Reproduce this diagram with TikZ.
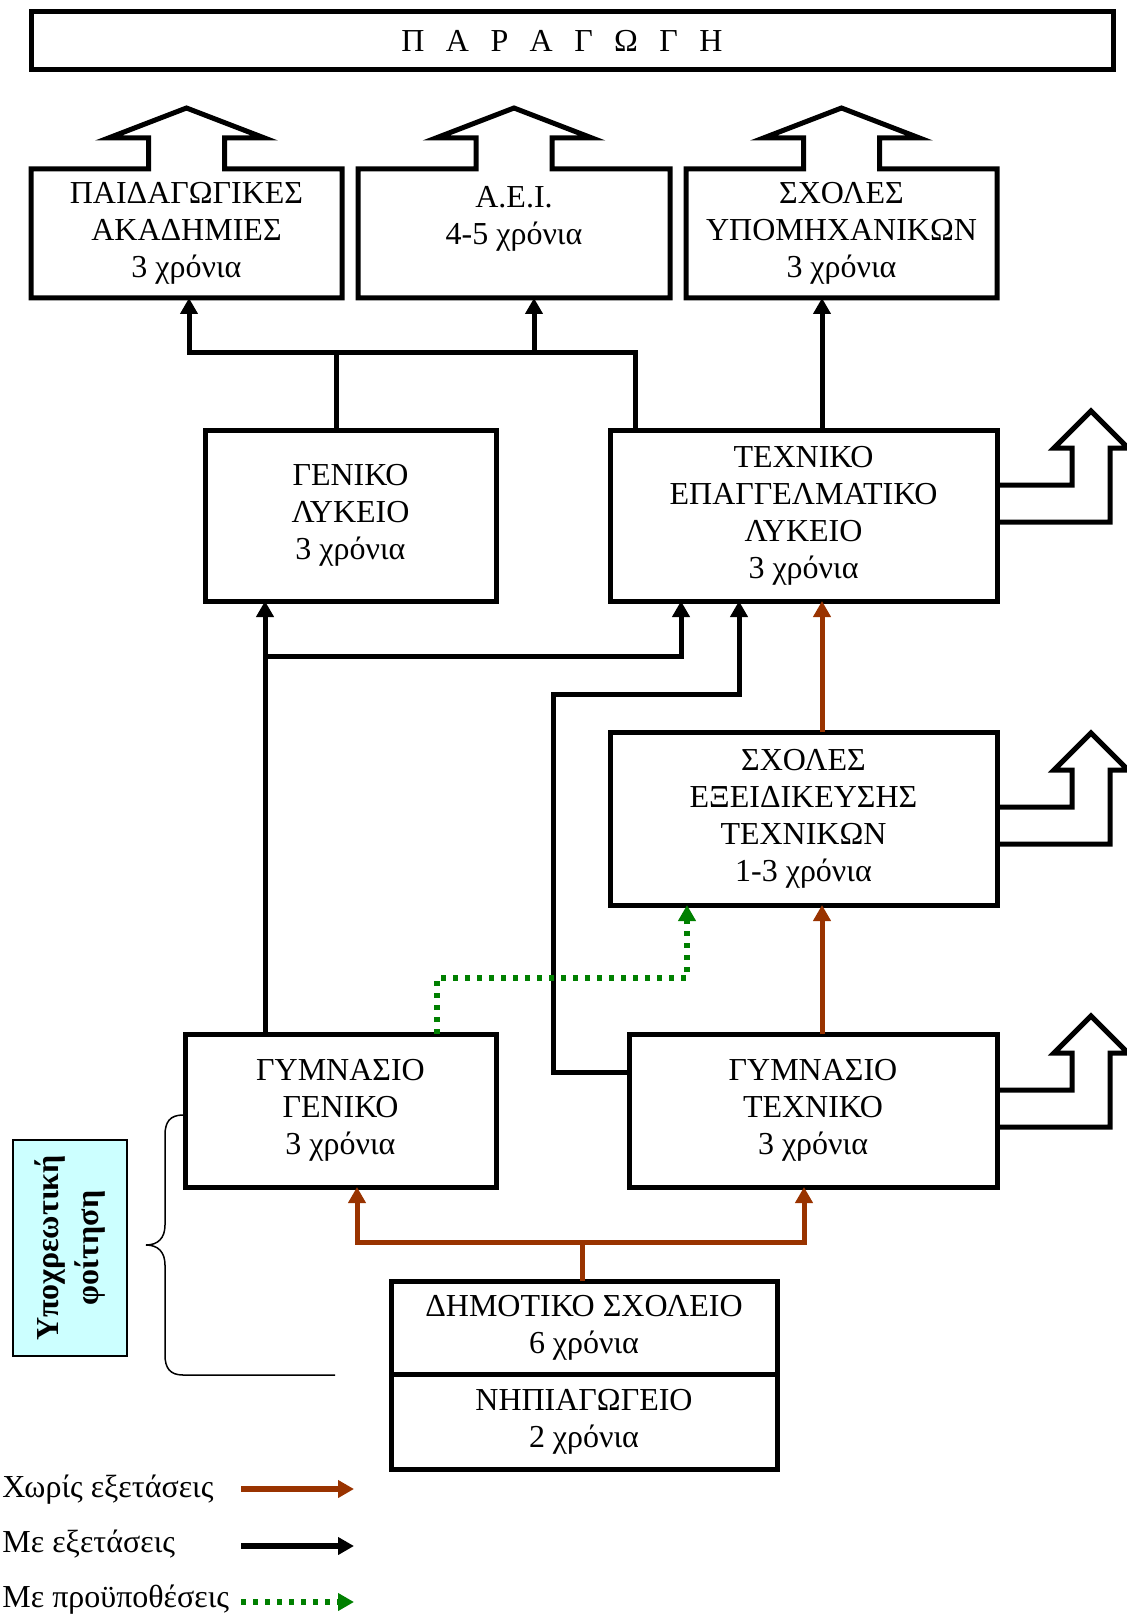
\documentclass[tikz,border=0pt]{standalone}
\usepackage{fontspec}
\setmainfont{Liberation Serif}
\usetikzlibrary{arrows.meta,calc}
\definecolor{noexamBrown}{HTML}{993300}
\definecolor{condGreen}{HTML}{008000}
\definecolor{obligCyan}{HTML}{CCFFFF}

\begin{document}
\begin{tikzpicture}[x=.5pt, y=-.5pt, font=\fontsize{16}{18.5}\selectfont,
  >={Triangle[length=8pt,width=8.5pt]},
  schoolbox/.style={draw, line width=2.5pt, inner sep=0pt, outer sep=0pt, align=center},
  openbox/.style={inner sep=0pt, outer sep=0pt, align=center},
  arrowline/.style={line width=2.5pt, line join=miter},
  exam/.style={line width=2.5pt},
  noexam/.style={line width=2.5pt, draw=noexamBrown},
  cond/.style={line width=2.6pt, draw=condGreen, dash pattern=on 2.6pt off 3.4pt},
  keyline/.style={line width=3pt}]
\useasboundingbox (0,0) rectangle (1127,1615);
\newcommand{\letterGap}{\hspace{.67em}}%
\newcommand{\upArrowBox}[1]{\draw[arrowline] (#1.north west) -- ($(#1.north)+(-38,0)$) -- ++(0,-31) -- ++(-40,0) -- ++(78,-30) -- ++(78,30) -- ++(-40,0) -- ++(0,31) -- (#1.north east) |- (#1.south west) -- cycle;
}
\newcommand{\sideArrow}[2]{\draw[arrowline] ($(#1.north east)+(0,#2)$) -- ++(75,0) -- ++(0,-37) -- ++(-18,0) -- ++(37,-37) -- ++(37,37) -- ++(-18,0) -- ++(0,74) -- ($(#1.north east)+(0,#2+37)$);
}
\node (prod) [schoolbox, minimum width=541pt, minimum height=29pt] at (572,41) {Π\letterGap Α\letterGap Ρ\letterGap Α\letterGap Γ\letterGap Ω\letterGap Γ\letterGap Η\hspace{10pt}};
\node (pa) [openbox, minimum width=155.5pt, minimum height=64.5pt] at (186.5,233.5) {ΠΑΙΔΑΓΩΓΙΚΕΣ\\ΑΚΑΔΗΜΙΕΣ\\3 χρόνια};
\node (aei) [openbox, minimum width=156pt, minimum height=64.5pt] at (514,233.5) {Α.Ε.Ι.\\4-5 χρόνια\\\mbox{}};
\node (ys) [openbox, minimum width=155.5pt, minimum height=64.5pt] at (841.5,233.5) {ΣΧΟΛΕΣ\\ΥΠΟΜΗΧΑΝΙΚΩΝ\\3 χρόνια};
\node (gl) [schoolbox, minimum width=145.5pt, minimum height=85.5pt] at (350.5,515.5) {ΓΕΝΙΚΟ\\ΛΥΚΕΙΟ\\3 χρόνια};
\node (tel) [schoolbox, minimum width=193.5pt, minimum height=85.5pt] at (803.5,515.5) {ΤΕΧΝΙΚΟ\\ΕΠΑΓΓΕΛΜΑΤΙΚΟ\\ΛΥΚΕΙΟ\\3 χρόνια};
\node (set) [schoolbox, minimum width=193.5pt, minimum height=86.5pt] at (803.5,818.5) {ΣΧΟΛΕΣ\\ΕΞΕΙΔΙΚΕΥΣΗΣ\\ΤΕΧΝΙΚΩΝ\\1-3 χρόνια};
\node (gg) [schoolbox, minimum width=155.5pt, minimum height=76.5pt] at (340.5,1110.5) {ΓΥΜΝΑΣΙΟ\\ΓΕΝΙΚΟ\\3 χρόνια};
\node (gt) [schoolbox, minimum width=184pt, minimum height=76.5pt] at (813,1110.5) {ΓΥΜΝΑΣΙΟ\\ΤΕΧΝΙΚΟ\\3 χρόνια};
\node (ds) [schoolbox, minimum width=193pt, minimum height=46.5pt] at (584,1327.5) {ΔΗΜΟΤΙΚΟ ΣΧΟΛΕΙΟ\\6 χρόνια};
\node (nh) [schoolbox, minimum width=193pt, minimum height=47.5pt] at (584,1421.5) {ΝΗΠΙΑΓΩΓΕΙΟ\\2 χρόνια};
\node (oblig) [draw, line width=1pt, fill=obligCyan, rotate=90, minimum width=108pt, minimum height=57pt, inner sep=0pt, align=center, font=\fontsize{16}{20}\selectfont\bfseries] at (70,1248) {Υποχρεωτική\\φοίτηση};
\foreach \b in {pa,aei,ys} {\upArrowBox{\b}}
\foreach \b/\off in {tel/55,set/75,gt/56} {\sideArrow{\b}{\off}}
\coordinate (busW) at (189,353);
\coordinate (busA) at (534,353);
\coordinate (busE) at (635,353);
\coordinate (glUp) at (336,353);
\coordinate (techCol) at (822,601);
\coordinate (ggUp) at (265,656);
\coordinate (telA) at (681,601);
\coordinate (gtBend) at (553,694);
\coordinate (telB) at (739,601);
\coordinate (dsUp) at (582,1242);
\coordinate (brW) at (357,1242);
\coordinate (brE) at (804,1242);
\coordinate (dotBend) at (437,978);
\coordinate (setIn) at (687,905);
\draw[exam,<->] (busW |- pa.south) -- (busW) -- (busA) -- (busA |- aei.south);
\draw[exam] (busA) -- (busE) -- (busE |- tel.north);
\draw[exam] (glUp) -- (glUp |- gl.north);
\draw[exam,->] (techCol |- tel.north) -- (techCol |- ys.south);
\draw[exam,->] (ggUp |- gg.north) -- (ggUp |- gl.south);
\draw[exam,->] (ggUp) -| (telA);
\draw[exam,->] ($(gt.north west)+(0,38)$) -| (gtBend) -| (telB);
\draw[noexam] (dsUp |- ds.north) -- (dsUp);
\draw[noexam,<->] (brW |- gg.south) -- (brW) -- (brE) -- (brE |- gt.south);
\draw[noexam,->] (techCol |- gt.north) -- (techCol |- set.south);
\draw[noexam,->] (techCol |- set.north) -- (techCol |- tel.south);
\draw[cond,->] (dotBend |- gg.north) -- (dotBend) -| (setIn);
\draw[line width=.75pt] (183,1115) .. controls (170,1115) and (165,1122) .. (165,1135) -- (165,1225) .. controls (165,1238) and (158,1245) .. (146,1245) .. controls (158,1245) and (165,1252) .. (165,1265) -- (165,1355) .. controls (165,1368) and (170,1375) .. (183,1375) -- (335,1375);
\node (keyNo) [anchor=base west, inner sep=0pt] at (2,1497) {Χωρίς εξετάσεις};
\node (keyEx) [anchor=base west, inner sep=0pt] at (2,1552) {Με εξετάσεις};
\node (keyCond) [anchor=base west, inner sep=0pt] at (2,1607) {Με προϋποθέσεις};
\coordinate (keyNoA) at (241,1489);
\coordinate (keyExA) at (241,1546);
\coordinate (keyCondA) at (241,1602);
\draw[noexam,keyline,->] (keyNoA) -- ++(113,0);
\draw[exam,keyline,->] (keyExA) -- ++(113,0);
\draw[cond,->] (keyCondA) -- ++(113,0);
\end{tikzpicture}
\end{document}
